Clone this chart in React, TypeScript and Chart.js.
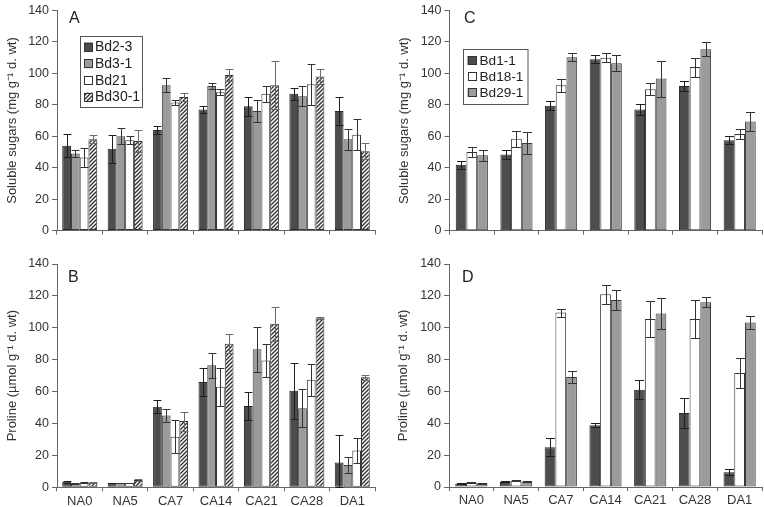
import React, { useEffect, useRef } from "react";
import { Chart, registerables } from "chart.js";

Chart.register(...registerables);

const FONT = '"Liberation Sans", Arial, Helvetica, sans-serif';

// ---- data ----
const categories = ["NA0", "NA5", "CA7", "CA14", "CA21", "CA28", "DA1"];
const yTicks = [0, 20, 40, 60, 80, 100, 120, 140];

const leftLines = ["Bd2-3", "Bd3-1", "Bd21", "Bd30-1"];
const rightLines = ["Bd1-1", "Bd18-1", "Bd29-1"];

// Panel A: soluble sugars
const sugarBd2_3 = [54, 52, 64, 77, 79, 87, 76];
const sugarBd2_3Err = [7.5, 9, 2.5, 2.5, 6, 4, 9];
const sugarBd3_1 = [49, 60, 92.5, 92, 76, 85.5, 58];
const sugarBd3_1Err = [2, 5, 4.5, 2, 7, 6.5, 6.5];
const sugarBd21 = [46.5, 57.5, 81.5, 88, 87, 93, 61];
const sugarBd21Err = [6, 2.5, 1.5, 2, 5, 13, 10];
const sugarBd30_1 = [58, 57, 85, 99, 92.5, 98, 50.5];
const sugarBd30_1Err = [2.5, 7, 2.5, 4, 15.5, 4.5, 5];

// Panel B: proline
const prolineBd2_3 = [3.5, 2.7, 50.5, 66, 51, 60.5, 15.5];
const prolineBd2_3Err = [0.5, 0.3, 4, 8.5, 9, 17.5, 17];
const prolineBd3_1 = [2.5, 2.7, 45, 76.5, 86.5, 49.5, 14];
const prolineBd3_1Err = [0.4, 0.3, 4, 8, 14, 12, 5];
const prolineBd21 = [2.8, 2.7, 31.7, 63, 79.5, 67.5, 23];
const prolineBd21Err = [0.4, 0.3, 10.5, 12, 10.5, 10, 8];
const prolineBd30_1 = [2.8, 4.6, 41.5, 90, 102.5, 106, 69];
const prolineBd30_1Err = [0.4, 0.5, 6, 6, 10.5, 0.5, 1.5];

// Panel C: soluble sugars
const sugarBd1_1 = [42, 48.5, 79.5, 109, 77, 92, 57.5];
const sugarBd1_1Err = [2.5, 3, 3, 2.5, 3.5, 3, 2.5];
const sugarBd18_1 = [50, 58.5, 92.5, 110, 90, 104, 61.5];
const sugarBd18_1Err = [3, 5, 4, 3, 4, 6, 3];
const sugarBd29_1 = [48, 55.8, 110.3, 106.5, 96.7, 115.3, 69.4];
const sugarBd29_1Err = [3.5, 7, 2.5, 5, 11.5, 4.5, 6];

// Panel D: proline
const prolineBd1_1 = [2.1, 3.3, 25, 38.7, 61, 46.4, 9.2];
const prolineBd1_1Err = [0.3, 0.4, 5.8, 1.3, 6, 9.5, 1.8];
const prolineBd18_1 = [2.9, 4, 109.5, 121, 105.5, 105.5, 71.5];
const prolineBd18_1Err = [0.3, 0.3, 2.5, 6, 11.5, 12, 9.5];
const prolineBd29_1 = [2.3, 3.3, 69, 117.4, 109, 116, 103.2];
const prolineBd29_1Err = [0.3, 0.3, 4, 6, 9.5, 3, 4];

// ---- styles ----
const DARK = { fill: "#4d4d4d", border: "#262626", err: "#1e1e1e" };
const MID = { fill: "#9b9b9b", border: "#3a3a3a", err: "#333" };
const WHITE = { fill: "#ffffff", border: "#333333", err: "#333" };
const HATCH = { fill: "hatch", border: "#333333", err: "#6a6a6a" };

function makeHatch(): CanvasPattern | string {
  const c = document.createElement("canvas");
  c.width = 4;
  c.height = 4;
  const g = c.getContext("2d");
  if (!g) return "#ccc";
  g.fillStyle = "#ffffff";
  g.fillRect(0, 0, 4, 4);
  g.strokeStyle = "#2e2e2e";
  g.lineWidth = 1.35;
  g.beginPath();
  g.moveTo(-1, 5);
  g.lineTo(5, -1);
  g.moveTo(-1, 1);
  g.lineTo(1, -1);
  g.moveTo(3, 5);
  g.lineTo(5, 3);
  g.stroke();
  return g.createPattern(c, "repeat") || "#ccc";
}

const errorBarPlugin = {
  id: "errorBars",
  afterDatasetsDraw(chart: any) {
    const ctx = chart.ctx;
    const yScale = chart.scales.y;
    chart.data.datasets.forEach((ds: any, i: number) => {
      const meta = chart.getDatasetMeta(i);
      meta.data.forEach((bar: any, j: number) => {
        const v = ds.data[j];
        const e = ds.errors[j];
        const { x, width } = bar.getProps(["x", "width"], true);
        const yHi = Math.round(yScale.getPixelForValue(v + e)) + 0.5;
        const yLo = Math.round(yScale.getPixelForValue(Math.max(0, v - e))) + 0.5;
        const cx = Math.round(x) + 0.5;
        const cap = Math.min(width * 0.9, 9) / 2;
        ctx.save();
        ctx.strokeStyle = ds.errorColor;
        ctx.lineWidth = 1;
        ctx.beginPath();
        ctx.moveTo(cx, yLo);
        ctx.lineTo(cx, yHi);
        ctx.moveTo(cx - cap, yHi);
        ctx.lineTo(cx + cap, yHi);
        ctx.moveTo(cx - cap, yLo);
        ctx.lineTo(cx + cap, yLo);
        ctx.stroke();
        ctx.restore();
      });
    });
  },
};

const decorPlugin = {
  id: "panelDecor",
  afterDraw(chart: any, _args: any, opts: any) {
    const ctx = chart.ctx;
    ctx.save();
    ctx.fillStyle = "#222";
    ctx.font = `16px ${FONT}`;
    ctx.textBaseline = "middle";
    ctx.textAlign = "left";
    ctx.fillText(opts.letter, opts.letterX, opts.letterY);
    const lg = opts.legend;
    if (lg) {
      ctx.fillStyle = "#fff";
      ctx.fillRect(lg.x, lg.y, lg.w, lg.h);
      ctx.strokeStyle = "#555";
      ctx.lineWidth = 1;
      ctx.strokeRect(lg.x + 0.5, lg.y + 0.5, lg.w, lg.h);
      chart.data.datasets.forEach((ds: any, k: number) => {
        const cy = lg.y + lg.first + k * lg.row;
        ctx.fillStyle = ds.backgroundColor;
        ctx.fillRect(lg.x + lg.swX, cy - lg.sw / 2, lg.sw, lg.sw);
        ctx.strokeStyle = "#333";
        ctx.strokeRect(Math.round(lg.x + lg.swX) + 0.5, Math.round(cy - lg.sw / 2) + 0.5, lg.sw - 1, lg.sw - 1);
        ctx.fillStyle = "#222";
        ctx.font = `${lg.fontSize}px ${FONT}`;
        ctx.fillText(ds.label, lg.x + lg.txX, cy + 0.5);
      });
    }
    ctx.restore();
  },
};

type Series = { label: string; values: number[]; errors: number[]; style: any };
type PanelSpec = {
  left: number; top: number; width: number; height: number;
  padTop: number; padRight: number; yAxisW: number; xAxisH: number;
  titlePad: number; catPct: number; showX: boolean; yTitle: string;
  letter: string; letterX: number; letterY: number; legend: any;
  series: Series[];
};

const SUGAR_TITLE = "Soluble sugars (mg g\u207B\u00B9 d. wt)";
const PROLINE_TITLE = "Proline (\u00B5mol g\u207B\u00B9 d. wt)";

const panels: PanelSpec[] = [
  {
    left: 0, top: 0, width: 382, height: 250, padTop: 7.5, padRight: 7, yAxisW: 57, xAxisH: 19.5,
    titlePad: 5, catPct: 0.77, showX: false, yTitle: SUGAR_TITLE, letter: "A", letterX: 69, letterY: 18.5,
    legend: { x: 80, y: 36, w: 62, h: 71, first: 11, row: 16.7, swX: 4, txX: 15, sw: 9, fontSize: 14 },
    series: [
      { label: leftLines[0], values: sugarBd2_3, errors: sugarBd2_3Err, style: DARK },
      { label: leftLines[1], values: sugarBd3_1, errors: sugarBd3_1Err, style: MID },
      { label: leftLines[2], values: sugarBd21, errors: sugarBd21Err, style: WHITE },
      { label: leftLines[3], values: sugarBd30_1, errors: sugarBd30_1Err, style: HATCH },
    ],
  },
  {
    left: 382, top: 0, width: 382, height: 250, padTop: 7.5, padRight: 2, yAxisW: 67.5, xAxisH: 19.3,
    titlePad: 15, catPct: 0.72, showX: false, yTitle: SUGAR_TITLE, letter: "C", letterX: 82, letterY: 18.5,
    legend: { x: 81, y: 49, w: 64.5, h: 55, first: 11.5, row: 16, swX: 4.5, txX: 16.5, sw: 9, fontSize: 13.6 },
    series: [
      { label: rightLines[0], values: sugarBd1_1, errors: sugarBd1_1Err, style: DARK },
      { label: rightLines[1], values: sugarBd18_1, errors: sugarBd18_1Err, style: WHITE },
      { label: rightLines[2], values: sugarBd29_1, errors: sugarBd29_1Err, style: MID },
    ],
  },
  {
    left: 0, top: 250, width: 382, height: 257, padTop: 14, padRight: 7, yAxisW: 57, xAxisH: 19.7,
    titlePad: 5, catPct: 0.77, showX: true, yTitle: PROLINE_TITLE, letter: "B", letterX: 68, letterY: 28,
    legend: null,
    series: [
      { label: leftLines[0], values: prolineBd2_3, errors: prolineBd2_3Err, style: DARK },
      { label: leftLines[1], values: prolineBd3_1, errors: prolineBd3_1Err, style: MID },
      { label: leftLines[2], values: prolineBd21, errors: prolineBd21Err, style: WHITE },
      { label: leftLines[3], values: prolineBd30_1, errors: prolineBd30_1Err, style: HATCH },
    ],
  },
  {
    left: 382, top: 250, width: 382, height: 257, padTop: 14, padRight: 2, yAxisW: 67, xAxisH: 20,
    titlePad: 14, catPct: 0.72, showX: true, yTitle: PROLINE_TITLE, letter: "D", letterX: 80, letterY: 27.5,
    legend: null,
    series: [
      { label: rightLines[0], values: prolineBd1_1, errors: prolineBd1_1Err, style: DARK },
      { label: rightLines[1], values: prolineBd18_1, errors: prolineBd18_1Err, style: WHITE },
      { label: rightLines[2], values: prolineBd29_1, errors: prolineBd29_1Err, style: MID },
    ],
  },
];

function Panel({ spec }: { spec: PanelSpec }) {
  const ref = useRef<HTMLCanvasElement>(null);
  useEffect(() => {
    if (!ref.current) return;
    const hatch = makeHatch();
    const chart = new Chart(ref.current, {
      type: "bar",
      data: {
        labels: categories,
        datasets: spec.series.map((s) => ({
          label: s.label,
          data: s.values,
          errors: s.errors,
          errorColor: s.style.err,
          backgroundColor: s.style.fill === "hatch" ? hatch : s.style.fill,
          borderColor: s.style.border,
          borderWidth: 1,
          borderSkipped: false,
          categoryPercentage: spec.catPct,
          barPercentage: 1,
        })) as any,
      },
      options: {
        animation: false,
        responsive: false,
        maintainAspectRatio: false,
        layout: { padding: { left: 0, top: spec.padTop, right: spec.padRight, bottom: 0 } },
        plugins: {
          legend: { display: false },
          tooltip: { enabled: false },
          panelDecor: { letter: spec.letter, letterX: spec.letterX, letterY: spec.letterY, legend: spec.legend },
        } as any,
        scales: {
          x: {
            type: "category",
            offset: true,
            grid: { display: true, drawOnChartArea: false, drawTicks: true, tickLength: 4, color: "#666", offset: true },
            border: { display: true, color: "#666", width: 1 },
            ticks: { display: spec.showX, color: "#333", font: { family: FONT, size: 13 }, padding: 2, maxRotation: 0, autoSkip: false },
            afterFit: (s: any) => { s.height = spec.xAxisH; },
          },
          y: {
            min: 0,
            max: 140,
            grid: { display: true, drawOnChartArea: false, drawTicks: true, tickLength: 5, color: "#666" },
            border: { display: true, color: "#666", width: 1 },
            ticks: { color: "#333", font: { family: FONT, size: 12.5 }, padding: 3 },
            afterBuildTicks: (s: any) => { s.ticks = yTicks.map((v) => ({ value: v })); },
            title: { display: true, text: spec.yTitle, color: "#333", font: { family: FONT, size: 13 }, padding: { top: spec.titlePad, bottom: 0 } },
            afterFit: (s: any) => { s.width = spec.yAxisW; },
          },
        },
      } as any,
      plugins: [errorBarPlugin, decorPlugin],
    });
    return () => chart.destroy();
  }, []);
  return (
    <canvas
      ref={ref}
      width={spec.width}
      height={spec.height}
      style={{ position: "absolute", left: spec.left, top: spec.top, width: spec.width, height: spec.height }}
    />
  );
}

export default function App() {
  return (
    <div style={{ position: "fixed", left: 0, top: 0, width: 764, height: 507, background: "#fff" }}>
      {panels.map((p, i) => (
        <Panel key={i} spec={p} />
      ))}
    </div>
  );
}
